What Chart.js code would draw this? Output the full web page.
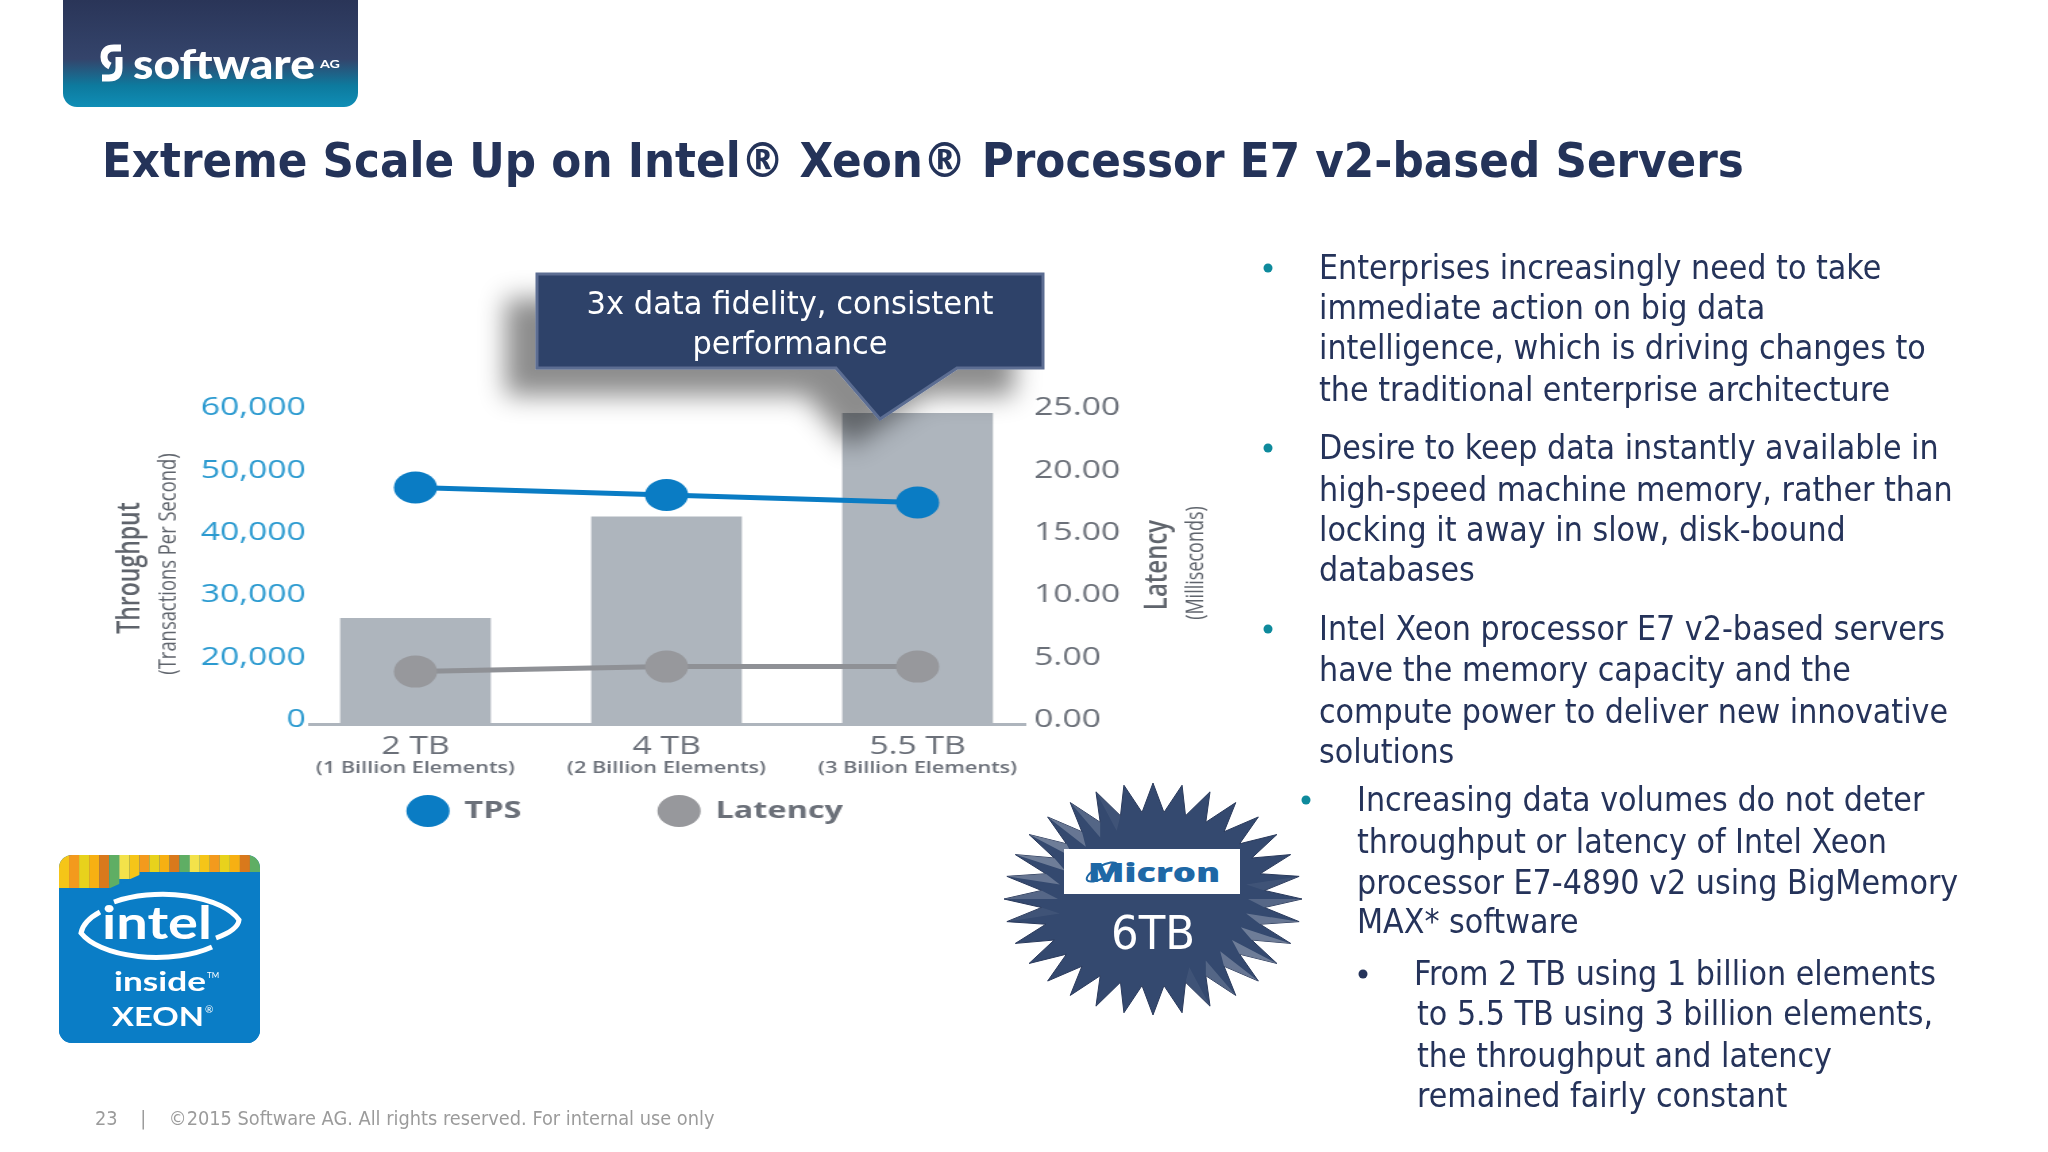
<!DOCTYPE html>
<html lang="en">
  <head>
    <meta charset="UTF-8" />
    <title>Extreme Scale Up on Intel Xeon</title>
    <script src="https://cdn.jsdelivr.net/npm/chart.js@4/dist/chart.umd.min.js"></script>
    <style>
      html, body { margin: 0; background: #fff; }
      #page { position: relative; width: 2048px; height: 1152px; overflow: hidden; font-family: "DejaVu Sans", sans-serif; font-stretch: condensed; }
      /* the source picture is a stretched screenshot, so the chart is drawn narrow and widened */
      #myChart { position: absolute; left: 30px; top: 380px; transform: scaleX(1.35); transform-origin: 0 0; filter: blur(0.5px); }
      #deco { position: absolute; left: 0; top: 0; }
      .line { position: absolute; white-space: nowrap; transform: translateY(-50%); line-height: 1; color: #25335a; font-size: 33.6px; }
      #title { position: absolute; left: 102px; top: 160px; transform: translateY(-50%); font-size: 48.6px; font-weight: 700; color: #243359; white-space: nowrap; line-height: 1; }
      #footer { position: absolute; left: 95px; top: 1119px; transform: translateY(-50%); font-size: 19.8px; color: #9b9b9b; white-space: pre; line-height: 1; }
    </style>
  </head>
  <body>
    <div id="page">
      <canvas id="myChart" width="878" height="480"></canvas>
      <svg id="deco" width="2048" height="1152" xmlns="http://www.w3.org/2000/svg"></svg>
      <div id="title">Extreme Scale Up on Intel® Xeon® Processor E7 v2-based Servers</div>
      <div id="footer">23    |    ©2015 Software AG. All rights reserved. For internal use only</div>
    </div>
    <script>
      const categories = ["2 TB", "4 TB", "5.5 TB"];
      const subLabels = ["(1 Billion Elements)", "(2 Billion Elements)", "(3 Billion Elements)"];
      const tpsValues = [47900, 46700, 45500];
      const latencyValues = [4.2, 4.6, 4.6];
      // bars have no axis of their own, read against the right one
      const memoryBars = [8.46, 16.6, 24.9];
      const leftTickLabels = ["0", "20,000", "30,000", "40,000", "50,000", "60,000"];
      const rightTickLabels = ["0.00", "5.00", "10.00", "15.00", "20.00", "25.00"];

      const bulletLines = [
        ["Enterprises increasingly need to take", 1319, 268],
        ["immediate action on big data", 1319, 308],
        ["intelligence, which is driving changes to", 1319, 348],
        ["the traditional enterprise architecture", 1319, 390],
        ["Desire to keep data instantly available in", 1319, 448],
        ["high-speed machine memory, rather than", 1319, 490],
        ["locking it away in slow, disk-bound", 1319, 530],
        ["databases", 1319, 570],
        ["Intel Xeon processor E7 v2-based servers", 1319, 629],
        ["have the memory capacity and the", 1319, 670],
        ["compute power to deliver new innovative", 1319, 712],
        ["solutions", 1319, 752],
        ["Increasing data volumes do not deter", 1357, 800],
        ["throughput or latency of Intel Xeon", 1357, 842],
        ["processor E7-4890 v2 using BigMemory", 1357, 883],
        ["MAX* software", 1357, 922],
        ["From 2 TB using 1 billion elements", 1414, 974],
        ["to 5.5 TB using 3 billion elements,", 1417, 1014],
        ["the throughput and latency", 1417, 1056],
        ["remained fairly constant", 1417, 1096],
      ];
      const bulletDots = [
        [1268, 268, "#0e8a9c"],
        [1268, 448, "#0e8a9c"],
        [1268, 629, "#0e8a9c"],
        [1306, 800, "#0e8a9c"],
        [1363, 974, "#25335a"],
      ];

      const page = document.getElementById("page");
      bulletLines.forEach((l) => {
        const d = document.createElement("div");
        d.className = "line";
        d.textContent = l[0];
        d.style.left = l[1] + "px";
        d.style.top = l[2] + "px";
        page.appendChild(d);
      });

      let deco = "";
      bulletDots.forEach((b) => {
        deco += `<circle cx="${b[0]}" cy="${b[1]}" r="4.5" fill="${b[2]}"/>`;
      });

      // logo
      deco += `<defs>
        <linearGradient id="logoGrad" x1="0" y1="0" x2="0" y2="1">
          <stop offset="0" stop-color="#2a3558"/><stop offset="0.55" stop-color="#34446b"/>
          <stop offset="0.8" stop-color="#0d7a9e"/><stop offset="1" stop-color="#0f8eb6"/>
        </linearGradient>
        <filter id="calloutShadow" x="-20%" y="-20%" width="140%" height="160%">
          <feDropShadow dx="-30" dy="26" stdDeviation="13" flood-color="#000" flood-opacity="0.45"/>
        </filter>
      </defs>`;
      deco += `<path d="M63 0H358V93a14 14 0 0 1-14 14H77a14 14 0 0 1-14-14Z" fill="url(#logoGrad)"/>`;
      deco += `<path d="M121 48h-7q-10 0-10 9q0 6 6 9M102 78h7q10 0 10-10v-11" fill="none" stroke="#fff" stroke-width="7"/>`;
      deco += `<text x="133" y="79" font-family="Lato" font-weight="900" font-size="41" fill="#fff" textLength="182" lengthAdjust="spacingAndGlyphs">software</text>`;
      deco += `<text x="320" y="68" font-family="Lato" font-weight="700" font-size="12" fill="#fff" textLength="20" lengthAdjust="spacingAndGlyphs">AG</text>`;

      // callout over the third bar
      const calloutPts = "537,274 1043,274 1043,368 957,368 880,419 836,368 537,368";
      deco += `<polygon points="${calloutPts}" fill="#2f4369" stroke="#5b6d92" stroke-width="3" stroke-linejoin="miter" filter="url(#calloutShadow)"/>`;
      deco += `<text x="790" y="314" text-anchor="middle" font-family="DejaVu Sans" font-stretch="condensed" font-size="32" fill="#fff" textLength="407" lengthAdjust="spacingAndGlyphs">3x data fidelity, consistent</text>`;
      deco += `<text x="790" y="354" text-anchor="middle" font-family="DejaVu Sans" font-stretch="condensed" font-size="32" fill="#fff" textLength="195" lengthAdjust="spacingAndGlyphs">performance</text>`;

      // intel badge
      deco += `<clipPath id="badgeClip"><rect x="59" y="855" width="201" height="188" rx="13"/></clipPath>`;
      deco += `<g clip-path="url(#badgeClip)"><rect x="59" y="855" width="201" height="188" fill="#0a7dc6"/>`;
      const tileColors = ["#f5c518", "#f39a1d", "#e8d21c", "#f7b012", "#d9791c", "#5fae64", "#f3e24a"];
      for (let i = 0; i < 20; i++) {
        deco += `<rect x="${59 + i * 10.05}" y="855" width="10.05" height="${i < 6 ? 33 : i < 8 ? 24 : 17}" fill="${tileColors[i % 7]}"/>`;
      }
      deco += `<polygon points="59,889 108,889 146,872 260,872 260,1043 59,1043" fill="#0a7dc6"/></g>`;
      deco += `<path d="M100 912 A80 37 0 0 0 81 933 A80 37 0 0 0 212 947" fill="none" stroke="#fff" stroke-width="5"/>`;
      deco += `<path d="M114 902 A80 37 0 0 1 239 920 Q238 930 216 938" fill="none" stroke="#fff" stroke-width="5"/>`;
      deco += `<text x="102" y="939" font-family="Lato" font-weight="700" font-size="46" fill="#fff" textLength="110" lengthAdjust="spacingAndGlyphs">intel</text>`;
      deco += `<text x="114" y="991" font-family="Lato" font-weight="700" font-size="26" fill="#fff" textLength="92" lengthAdjust="spacingAndGlyphs">inside</text>`;
      deco += `<text x="207" y="978" font-family="Lato" font-size="8" fill="#fff">TM</text>`;
      deco += `<text x="112" y="1026" font-family="Lato" font-weight="700" font-size="27" fill="#fff" textLength="92" lengthAdjust="spacingAndGlyphs">XEON</text>`;
      deco += `<text x="205" y="1013" font-family="Lato" font-size="10" fill="#fff">®</text>`;

      // 6TB starburst
      const cx = 1153, cy = 899, spikes = 32;
      let starPts = [];
      let facets = "";
      for (let i = 0; i < spikes; i++) {
        const a = (i / spikes) * Math.PI * 2 - Math.PI / 2;
        const b = ((i + 0.5) / spikes) * Math.PI * 2 - Math.PI / 2;
        const tip = [cx + 149 * Math.cos(a), cy + 116 * Math.sin(a)];
        const inner = [cx + 112 * Math.cos(b), cy + 87 * Math.sin(b)];
        starPts.push(tip.join(","), inner.join(","));
        const op = Math.max(0, Math.sin(a * 2 + 0.6)) * 0.3;
        facets += `<polygon points="${tip.join(",")} ${inner.join(",")} ${cx + 95 * Math.cos(a)},${cy + 74 * Math.sin(a)}" fill="#fff" opacity="${op.toFixed(2)}"/>`;
      }
      deco += `<polygon points="${starPts.join(" ")}" fill="#34496f" stroke="#2a3a5c" stroke-width="1"/>${facets}`;
      deco += `<rect x="1064" y="849" width="176" height="45" fill="#fff"/>`;
      deco += `<text x="1088" y="882" font-family="Open Sans" font-weight="800" font-size="27" fill="#1e68a6" textLength="132" lengthAdjust="spacingAndGlyphs">Micron</text>`;
      deco += `<ellipse cx="1102" cy="872" rx="17" ry="6" fill="none" stroke="#1e68a6" stroke-width="2" transform="rotate(-28 1102 872)"/>`;
      deco += `<text x="1153" y="949" text-anchor="middle" font-family="DejaVu Sans" font-stretch="condensed" font-size="46" fill="#fff" textLength="84" lengthAdjust="spacingAndGlyphs">6TB</text>`;
      document.getElementById("deco").innerHTML = deco;

      const grayText = "#6b7079";
      const blueTick = "#2b9ad0";

      // axis titles, second line of the x labels and the legend need mixed fonts, so they are drawn here
      const sideNotes = {
        id: "sideNotes",
        afterDraw(chart) {
          const { ctx, chartArea, scales } = chart;
          const midY = (chartArea.top + chartArea.bottom) / 2;
          ctx.save();
          ctx.textBaseline = "middle";
          ctx.textAlign = "center";

          const rotated = (text, x, y, font, color) => {
            ctx.save();
            ctx.translate(x, y);
            ctx.rotate(-Math.PI / 2);
            ctx.font = font;
            ctx.fillStyle = color;
            ctx.fillText(text, 0, 0);
            ctx.restore();
          };
          rotated("Throughput", chartArea.left - 133, midY, "600 23px 'Open Sans'", "#5f646c");
          rotated("(Transactions Per Second)", chartArea.left - 105, midY - 4, "18.4px 'Open Sans'", "#5f646c");
          rotated("Latency", chartArea.right + 97, midY - 3, "600 24px 'Open Sans'", "#5f646c");
          rotated("(Milliseconds)", chartArea.right + 126, midY - 5, "18px 'Open Sans'", "#5f646c");

          ctx.font = "600 16px 'Open Sans'";
          ctx.fillStyle = grayText;
          subLabels.forEach((s, i) => {
            ctx.fillText(s, scales.x.getPixelForValue(i), chartArea.bottom + 44);
          });

          // legend
          ctx.textAlign = "left";
          [chart.data.datasets[0], chart.data.datasets[1]].forEach((ds, i) => {
            const x = scales.x.getPixelForValue(i + 0.05);
            const y = chartArea.bottom + 87;
            ctx.beginPath();
            ctx.arc(x, y, 16, 0, Math.PI * 2);
            ctx.fillStyle = ds.pointBackgroundColor;
            ctx.fill();
            ctx.font = "700 24px 'Open Sans'";
            ctx.fillStyle = grayText;
            ctx.fillText(ds.label, x + 27, y);
          });
          ctx.restore();
        },
      };

      const toPoints = (arr) => arr.map((v, i) => ({ x: i, y: v }));

      new Chart("myChart", {
        type: "bar",
        data: {
          datasets: [
            {
              type: "line",
              label: "TPS",
              data: toPoints(tpsValues),
              yAxisID: "yTps",
              borderColor: "#0a7cc4",
              borderWidth: 5,
              pointBackgroundColor: "#0a7cc4",
              pointBorderWidth: 0,
              pointRadius: 16,
              tension: 0,
              order: 1,
            },
            {
              type: "line",
              label: "Latency",
              data: toPoints(latencyValues),
              yAxisID: "yLat",
              borderColor: "#8f9196",
              borderWidth: 5,
              pointBackgroundColor: "#97989c",
              pointBorderWidth: 0,
              pointRadius: 16,
              tension: 0,
              order: 1,
            },
            {
              label: "Memory",
              data: toPoints(memoryBars),
              yAxisID: "yLat",
              backgroundColor: "#aeb5bd",
              barThickness: 111,
              order: 2,
            },
          ],
        },
        options: {
          responsive: false,
          animation: false,
          layout: { padding: { top: 32, bottom: 96 } },
          plugins: { legend: { display: false }, tooltip: { enabled: false } },
          scales: {
            x: {
              type: "linear",
              offset: false,
              min: -0.42,
              max: 2.432,
              grid: { display: false, drawTicks: false, offset: false },
              border: { color: "#aeb5bd", width: 3 },
              afterFit: (s) => { s.height = 40; },
              ticks: {
                stepSize: 1,
                includeBounds: false,
                maxRotation: 0,
                autoSkip: false,
                padding: 8,
                color: grayText,
                font: { family: "'Open Sans'", size: 25 },
                callback: (v) => categories[v],
              },
            },
            // the source axis jumps from 20,000 straight to 0, so its lowest tick sits at 10,000
            yTps: {
              position: "left",
              min: 10000,
              max: 60000,
              grid: { display: false, drawTicks: false },
              border: { display: false },
              afterFit: (s) => { s.width = 207.4; },
              ticks: {
                stepSize: 10000,
                padding: 3,
                labelOffset: -4,
                color: blueTick,
                font: { family: "'Open Sans'", size: 25 },
                callback: (v, i) => leftTickLabels[i],
              },
            },
            yLat: {
              position: "right",
              min: 0,
              max: 25,
              grid: { display: false, drawTicks: false },
              border: { display: false },
              afterFit: (s) => { s.width = 140.2; },
              ticks: {
                stepSize: 5,
                padding: 6,
                labelOffset: -4,
                color: grayText,
                font: { family: "'Open Sans'", size: 25 },
                callback: (v, i) => rightTickLabels[i],
              },
            },
          },
        },
        plugins: [sideNotes],
      });
    </script>
  </body>
</html>
